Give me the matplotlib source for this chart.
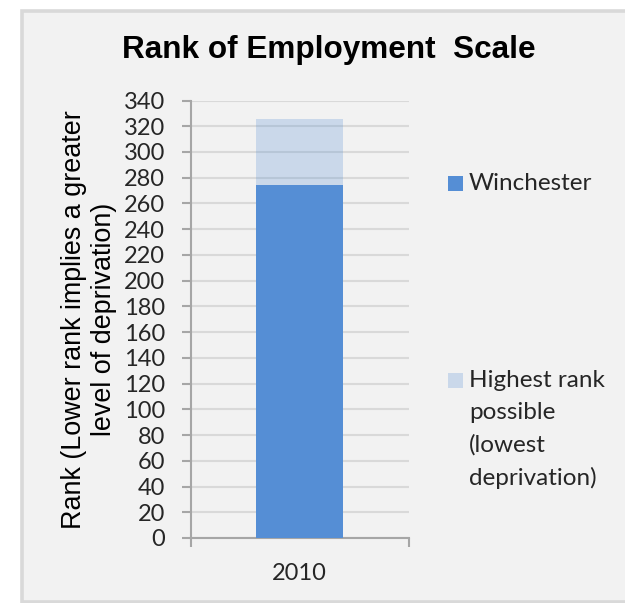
import matplotlib.pyplot as plt
from matplotlib.patches import Rectangle

# rank values for the employment domain
years = ["2010"]
winchester = [274]
highest_rank = [326]

BLUE = "#558ed5"
GRID = "#d9d9d9"
AXIS = "#a6a6a6"


def main() -> None:
    fig = plt.figure(figsize=(6.25, 6.03), dpi=100, facecolor="white")

    # chart area panel with its light grey border
    panel = Rectangle((22 / 625, 1.5 / 603), 610 / 625, 591 / 603,
                      transform=fig.transFigure, facecolor="#f2f2f2",
                      edgecolor="#d9d9d9", linewidth=2.6, zorder=-10)
    fig.patches.append(panel)

    ax = fig.add_axes([0.305, 0.1078, 0.349, 0.7255])
    ax.set_facecolor("none")

    x = list(range(len(years)))
    ax.bar(x, highest_rank, width=0.4, color=BLUE, alpha=0.25, zorder=3,
           label="Highest rank\npossible\n(lowest\ndeprivation)")
    ax.bar(x, winchester, width=0.4, color=BLUE, zorder=4, label="Winchester")

    ax.set_xlim(-0.5, 0.5)
    ax.set_ylim(0, 340)
    ax.set_yticks(range(0, 341, 20))
    ax.set_xticks(x)
    ax.set_xticklabels(years)
    ax.yaxis.grid(True, color=GRID, linewidth=1.5, zorder=1)
    ax.set_axisbelow(True)

    for side in ("top", "right"):
        ax.spines[side].set_visible(False)
    for side in ("left", "bottom"):
        ax.spines[side].set_color(AXIS)
        ax.spines[side].set_linewidth(1.5)

    ax.tick_params(axis="y", direction="out", length=6.5, width=1.5,
                   color=AXIS, labelsize=17, pad=12)
    ax.tick_params(axis="x", length=0, labelsize=17, pad=18)
    for lbl in ax.get_yticklabels() + ax.get_xticklabels():
        lbl.set_fontfamily("Lato")
        lbl.set_color("#262626")

    # end ticks on the category axis
    ax.set_xticks([-0.5, 0.5], minor=True)
    ax.tick_params(axis="x", which="minor", direction="out", length=6.5,
                   width=1.5, color=AXIS)

    ax.set_ylabel("Rank (Lower rank implies a greater\nlevel of deprivation)",
                  fontsize=19.4, family="Liberation Sans", color="black",
                  labelpad=5)

    fig.text(0.5256, 0.917, "Rank of Employment  Scale", ha="center",
             va="center", fontsize=22.7, fontweight="bold",
             family="Liberation Sans")

    # legend entries placed by hand to keep the wide gap between them
    fig.patches.append(Rectangle((448 / 625, 1 - 191 / 603), 15 / 625, 15 / 603,
                                 transform=fig.transFigure, facecolor=BLUE,
                                 edgecolor="none"))
    fig.text(469 / 625, 1 - 184 / 603, "Winchester", fontsize=17.5,
             family="Lato", va="center", color="#262626")
    fig.patches.append(Rectangle((448 / 625, 1 - 388 / 603), 15 / 625, 15 / 603,
                                 transform=fig.transFigure, facecolor=BLUE,
                                 alpha=0.25, edgecolor="none"))
    fig.text(469 / 625, 1 - 370 / 603,
             "Highest rank\npossible\n(lowest\ndeprivation)", fontsize=17.5,
             family="Lato", va="top", color="#262626", linespacing=1.63)

    fig.savefig("out.png", dpi=100, facecolor="white")


if __name__ == '__main__':
    main()
